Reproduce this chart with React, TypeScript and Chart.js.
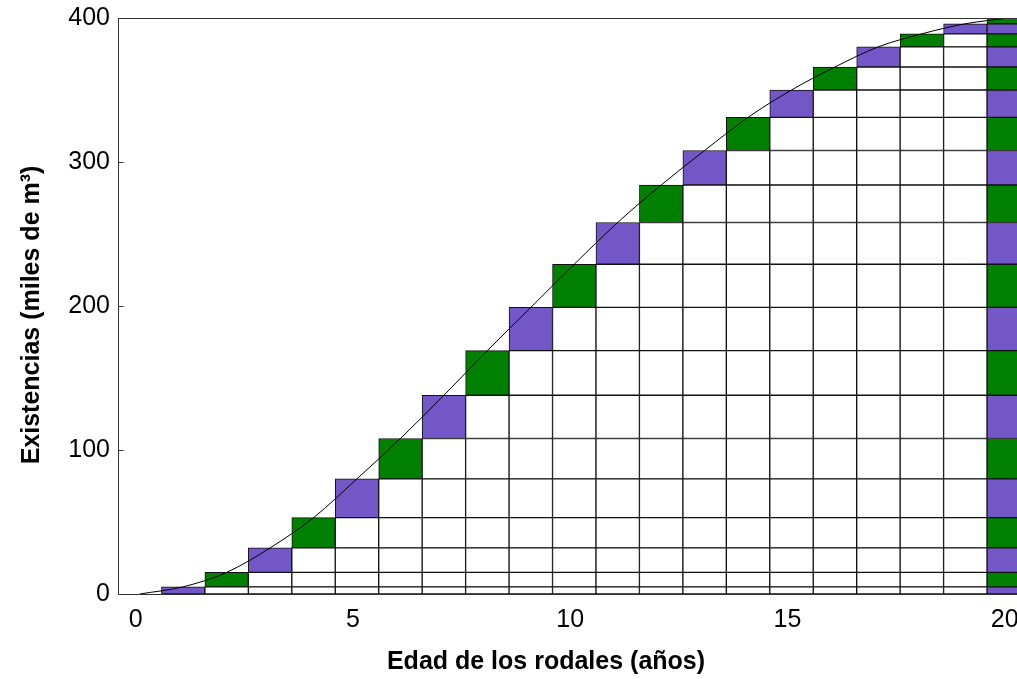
import React, { useEffect, useRef } from "react";
import { Chart, registerables } from "chart.js";

Chart.register(...registerables);

// Stand ages (columns) and cumulative growing stock (thousand m3) at each age
const ages = [1, 2, 3, 4, 5, 6, 7, 8, 9, 10, 11, 12, 13, 14, 15, 16, 17, 18, 19, 20];
const volumes = [5, 15, 32, 53, 80, 108, 138, 169, 199, 229, 258, 284, 308, 331, 350, 366, 380, 389, 396, 400];

// Growth curve points
const curveAges = [0, ...ages];
const curveVolumes = [0, ...volumes];

const xTickValues = [0, 5, 10, 15, 20];
const yTickValues = [0, 100, 200, 300, 400];

const xTitle = "Edad de los rodales (años)";
const yTitle = "Existencias (miles de m³)";

const PURPLE = "#7457C7";
const GREEN = "#008000";
const FONT = "'Liberation Sans', Arial, sans-serif";

const CANVAS_W = 1040;
const CANVAS_H = 679;

export default function App() {
  const ref = useRef<HTMLCanvasElement>(null);

  useEffect(() => {
    if (!ref.current) return;
    const lastAge = ages[ages.length - 1];

    const barSets: any[] = ages.map((k, idx) => {
      const lo = idx === 0 ? 0 : volumes[idx - 1];
      const hi = volumes[idx];
      const pts = ages.filter((i) => i >= k).map((i) => ({ x: i, y: hi - lo }));
      const fill = k % 2 === 1 ? PURPLE : GREEN;
      return {
        type: "bar",
        label: "seg" + k,
        data: pts,
        backgroundColor: pts.map((p) => (p.x === k || p.x === lastAge ? fill : "#ffffff")),
        borderColor: "#111111",
        borderWidth: 1,
        borderSkipped: false,
        barPercentage: 1,
        categoryPercentage: 1,
        stack: "s",
        order: 2,
      };
    });

    const lineSet: any = {
      type: "line",
      label: "curve",
      data: curveAges.map((a, i) => ({ x: a, y: curveVolumes[i] })),
      borderColor: "#000000",
      borderWidth: 1,
      pointRadius: 0,
      fill: false,
      cubicInterpolationMode: "monotone",
      stack: "line",
      order: 0,
    };

    const framePlugin = {
      id: "frame",
      afterDatasetsDraw(chart: any) {
        const { ctx, chartArea: a, scales } = chart;
        ctx.save();
        ctx.strokeStyle = "#333333";
        ctx.lineWidth = 1;
        const l = Math.round(a.left) + 0.5;
        const t = Math.round(a.top) + 0.5;
        const r = Math.round(a.right) + 0.5;
        const b = Math.round(a.bottom) + 0.5;
        ctx.beginPath();
        ctx.moveTo(l, b);
        ctx.lineTo(l, t);
        ctx.lineTo(r, t);
        ctx.lineTo(r, b);
        ctx.lineTo(l, b);
        ctx.stroke();
        // short inward tick marks on y axis
        for (const v of yTickValues) {
          const y = Math.round(scales.y.getPixelForValue(v)) + 0.5;
          ctx.beginPath();
          ctx.moveTo(l, y);
          ctx.lineTo(l + 5, y);
          ctx.stroke();
        }
        ctx.restore();
      },
      afterDraw(chart: any) {
        const { ctx } = chart;
        ctx.save();
        ctx.fillStyle = "#000000";
        ctx.font = `bold 25px ${FONT}`;
        ctx.textAlign = "center";
        ctx.textBaseline = "middle";
        ctx.fillText(xTitle, 546, 662);
        ctx.translate(32, 315);
        ctx.rotate(-Math.PI / 2);
        ctx.fillText(yTitle, 0, 0);
        ctx.restore();
      },
    };

    const chart = new Chart(ref.current, {
      type: "bar",
      data: { datasets: [...barSets, lineSet] },
      options: {
        animation: false,
        responsive: false,
        devicePixelRatio: 1,
        layout: { padding: { left: 0, top: 18, right: CANVAS_W - 1030.5, bottom: 0 } },
        plugins: { legend: { display: false }, tooltip: { enabled: false } },
        scales: {
          x: {
            type: "linear",
            min: -0.5,
            max: 20.5,
            offset: false,
            stacked: true,
            grid: { display: false, drawTicks: false, offset: false },
            border: { display: false },
            afterBuildTicks: (axis: any) => {
              axis.ticks = xTickValues.map((v) => ({ value: v }));
            },
            afterFit: (axis: any) => {
              axis.height = CANVAS_H - 594;
            },
            ticks: {
              color: "#000",
              font: { family: FONT, size: 25 },
              padding: 11,
              labelOffset: -4,
              maxRotation: 0,
              autoSkip: false,
              callback: (v: any) => String(v),
            },
            title: { display: false },
          },
          y: {
            min: 0,
            max: 400,
            stacked: true,
            grid: { display: false, drawTicks: false },
            border: { display: false },
            afterBuildTicks: (axis: any) => {
              axis.ticks = yTickValues.map((v) => ({ value: v }));
            },
            afterFit: (axis: any) => {
              axis.width = 118;
            },
            ticks: {
              color: "#000",
              font: { family: FONT, size: 25, lineHeight: 0.8 },
              padding: 8,
            },
            title: { display: false },
          },
        },
      },
      plugins: [framePlugin],
    } as any);

    return () => chart.destroy();
  }, []);

  return (
    <div
      style={{
        position: "fixed",
        left: 0,
        top: 0,
        width: 1017,
        height: 679,
        overflow: "hidden",
        background: "#ffffff",
      }}
    >
      <canvas
        ref={ref}
        width={CANVAS_W}
        height={CANVAS_H}
        style={{ display: "block", width: CANVAS_W, height: CANVAS_H }}
      />
    </div>
  );
}
